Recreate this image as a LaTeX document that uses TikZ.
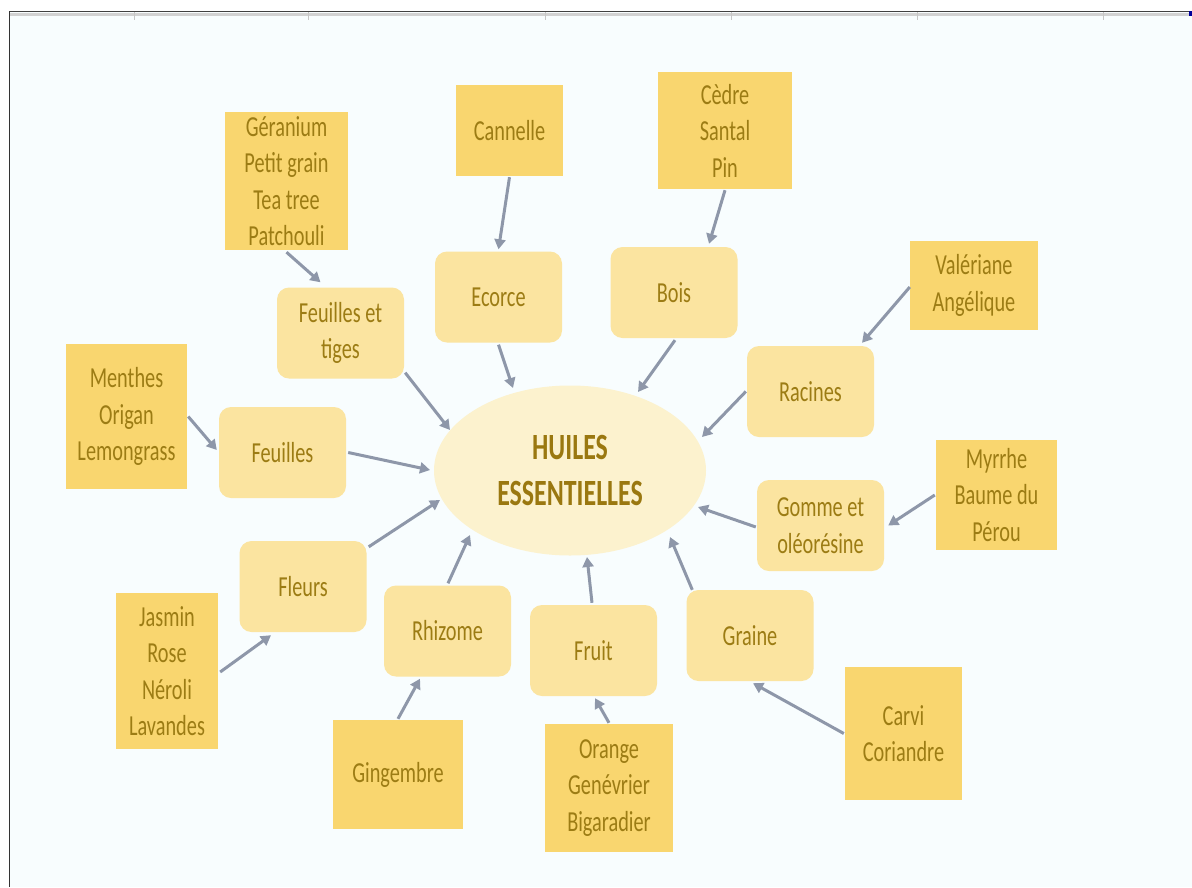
\documentclass[tikz,border=0pt]{standalone}
\usepackage{fontspec}
\setmainfont{Carlito}[FakeStretch=0.70]
\usetikzlibrary{shapes.geometric,arrows.meta}
\definecolor{bgc}{HTML}{F8FDFE}
\definecolor{srcfill}{HTML}{F9D66F}
\definecolor{catfill}{HTML}{FBE4A0}
\definecolor{ellfill}{HTML}{FCF2CE}
\definecolor{txtc}{HTML}{9C7C14}
\definecolor{ellt}{HTML}{9A7810}
\definecolor{arrowc}{HTML}{8E97A9}
\tikzset{
  sbox/.style={rectangle, fill=srcfill, text=txtc, align=center, inner sep=0pt,
    font=\fontsize{29}{36.5}\selectfont},
  cbox/.style={rectangle, rounded corners=12pt, fill=catfill, text=txtc, align=center,
    inner sep=0pt, minimum width=127pt, minimum height=91pt,
    font=\fontsize{29}{36.5}\selectfont},
  conn/.style={draw=arrowc, line width=3pt, -{Triangle[length=10pt,width=11pt]}}
}
\begin{document}
\begin{tikzpicture}[x=1pt,y=-1pt]
\useasboundingbox (0,0) rectangle (1192,887);
\fill[white] (0,0) rectangle (1192,887);
\fill[bgc] (9,11) rectangle (1192,887);
% window frame
\fill[gray!35] (9,12.5) rectangle (1192,15.5);
\foreach \xx in {134,308,545,731,917,1103}{\draw[gray!45, line width=0.8pt] (\xx,11) -- (\xx,20);}
\draw[black!75, line width=1pt] (9,11.5) -- (1192,11.5);
\draw[black!80, line width=1pt] (9.5,11) -- (9.5,887);
\fill[blue!60!black] (1189,11) rectangle (1192,16);

% central ellipse
\node[ellipse, fill=ellfill, minimum width=272pt, minimum height=170pt, inner sep=0pt,
  text=ellt, align=center, font=\fontsize{37}{46}\selectfont\bfseries] (ell) at (570,470.5) {HUILES\\ESSENTIELLES};

% category boxes
\node[cbox] (fet) at (340.5,333) {Feuilles et\\tiges};
\node[cbox] (eco) at (498.5,297) {Ecorce};
\node[cbox] (boi) at (674,292.5) {Bois};
\node[cbox] (rac) at (810.5,391.5) {Racines};
\node[cbox] (feu) at (282.5,452.5) {Feuilles};
\node[cbox] (gom) at (820.5,525.5) {Gomme et\\oléorésine};
\node[cbox] (fle) at (303,586.5) {Fleurs};
\node[cbox] (rhi) at (447.5,631) {Rhizome};
\node[cbox] (fru) at (593.5,650.5) {Fruit};
\node[cbox] (gra) at (750,635.5) {Graine};

% source boxes
\node[sbox, minimum width=123pt, minimum height=138pt] (ger) at (286.5,181) {Géranium\\Petit grain\\Tea tree\\Patchouli};
\node[sbox, minimum width=107pt, minimum height=91pt] (can) at (509.5,130.5) {Cannelle};
\node[sbox, minimum width=134pt, minimum height=117pt] (ced) at (725,130.5) {Cèdre\\Santal\\Pin};
\node[sbox, minimum width=128pt, minimum height=89pt] (val) at (974,285.5) {Valériane\\Angélique};
\node[sbox, minimum width=121pt, minimum height=145pt] (men) at (126.5,416.5) {Menthes\\Origan\\Lemongrass};
\node[sbox, minimum width=121pt, minimum height=110pt] (myr) at (996.5,495) {Myrrhe\\Baume du\\Pérou};
\node[sbox, minimum width=102pt, minimum height=156pt] (jas) at (167,671) {Jasmin\\Rose\\Néroli\\Lavandes};
\node[sbox, minimum width=130pt, minimum height=109pt] (gin) at (398,774.5) {Gingembre};
\node[sbox, minimum width=128pt, minimum height=128pt] (ora) at (609,788) {Orange\\Genévrier\\Bigaradier};
\node[sbox, minimum width=117pt, minimum height=133pt] (car) at (903.5,733.5) {Carvi\\Coriandre};

% source -> category
\draw[conn] ([yshift=-2pt]ger.south) -- ([xshift=-20pt,yshift=5pt]fet.north);
\draw[conn] ([yshift=-1pt]can.south) -- ([yshift=2pt]eco.north);
\draw[conn] ([yshift=-1pt]ced.south) -- ([xshift=35pt,yshift=3pt]boi.north);
\draw[conn] ([yshift=-1.5pt]val.west) -- ([xshift=51.5pt,yshift=3pt]rac.north);
\draw[conn] ([xshift=1pt]men.east) -- ([xshift=-2pt,yshift=2.5pt]feu.west);
\draw[conn] ([xshift=-1pt]myr.west) -- ([xshift=4pt]gom.east);
\draw[conn] ([xshift=2pt,yshift=-1pt]jas.east) -- ([xshift=-32pt,yshift=-3pt]fle.south);
\draw[conn] ([yshift=1pt]gin.north) -- ([xshift=-27.5pt,yshift=-2pt]rhi.south);
\draw[conn] ([yshift=1pt]ora.north) -- ([xshift=1.5pt,yshift=-2pt]fru.south);
\draw[conn] ([xshift=-1pt]car.west) -- ([xshift=3pt,yshift=-2pt]gra.south);

% category -> ellipse
\draw[conn] ([xshift=1pt,yshift=6pt]fet.south east) -- ([xshift=-120pt,yshift=40.5pt]ell.center);
\draw[conn] ([yshift=-2pt]eco.south) -- ([xshift=-57pt,yshift=82.5pt]ell.center);
\draw[conn] ([xshift=1pt,yshift=-2pt]boi.south) -- ([xshift=68pt,yshift=78.5pt]ell.center);
\draw[conn] ([xshift=-1pt]rac.west) -- ([xshift=132pt,yshift=33.5pt]ell.center);
\draw[conn] ([xshift=2pt]feu.east) -- ([xshift=-140pt,yshift=0.5pt]ell.center);
\draw[conn] ([xshift=-1pt,yshift=-1.5pt]gom.west) -- ([xshift=128pt,yshift=-36.5pt]ell.center);
\draw[conn] ([xshift=2pt,yshift=-6pt]fle.north east) -- ([xshift=-130pt,yshift=-29.5pt]ell.center);
\draw[conn] ([xshift=0.5pt,yshift=2pt]rhi.north) -- ([xshift=-100pt,yshift=-64.5pt]ell.center);
\draw[conn] ([xshift=-1.5pt,yshift=2pt]fru.north) -- ([xshift=17pt,yshift=-86.5pt]ell.center);
\draw[conn] ([xshift=6pt]gra.north west) -- ([xshift=100pt,yshift=-66.5pt]ell.center);
\end{tikzpicture}
\end{document}
